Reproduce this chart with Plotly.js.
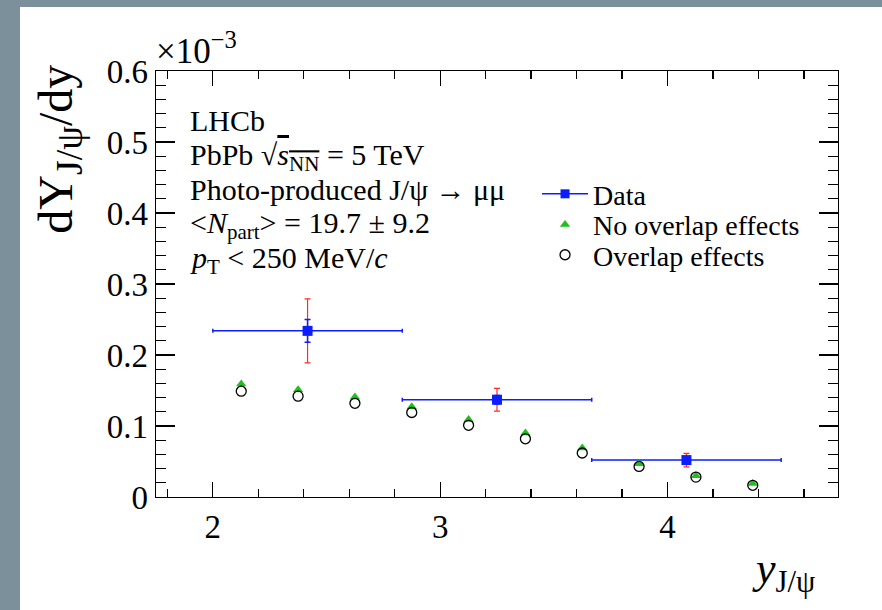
<!DOCTYPE html>
<html>
<head>
<meta charset="utf-8">
<script src="https://cdn.plot.ly/plotly-3.0.1.min.js"></script>
<style>
  html, body { margin: 0; padding: 0; background: #ffffff; width: 100%; height: 100%; overflow: hidden; }
  #cover { position: absolute; left: 0; top: 0; width: 1600px; height: 1200px; background: #ffffff; z-index: 0; }
  #chart { position: absolute; left: 0; top: 0; width: 882px; height: 610px; z-index: 1; }
  .strip { position: absolute; background: #7b909a; z-index: 10; }
  #stripLeft { left: 0; top: 0; width: 20px; height: 1200px; }
  #stripTop { left: 0; top: 0; width: 1600px; height: 7px; }
</style>
</head>
<body>
<div id="cover"></div>
<div id="chart"></div>
<div class="strip" id="stripLeft"></div>
<div class="strip" id="stripTop"></div>
<script>
// ---- data (yields in units of 1e-3) ----
const dataX = [2.4167, 3.25, 4.0833];
const dataY = [0.234, 0.137, 0.052];
const dataBinHalfWidth = [0.4167, 0.4167, 0.4167];
const dataStatErr = [0.016, 0.006, 0.004];
const dataTotErr = [0.045, 0.016, 0.0095];

const modelX = [2.125, 2.375, 2.625, 2.875, 3.125, 3.375, 3.625, 3.875, 4.125, 4.375];
const noOverlapY = [0.159, 0.151, 0.141, 0.127, 0.109, 0.090, 0.069, 0.047, 0.030, 0.019];
const overlapY = [0.149, 0.142, 0.132, 0.119, 0.101, 0.082, 0.062, 0.043, 0.028, 0.0165];

const yTickVals = [0, 0.1, 0.2, 0.3, 0.4, 0.5, 0.6];
const yTickText = ['0', '0.1', '0.2', '0.3', '0.4', '0.5', '0.6'];
const xTickVals = [2, 3, 4];
const xTickText = ['2', '3', '4'];

const FONT = '"Liberation Serif", "Times New Roman", Times, serif';
const BLUE = '#0a1eff';
const RED = '#ff2a2a';
const GREEN = '#1fbf1f';

const traces = [
  { // total uncertainty (red)
    x: dataX, y: dataY, type: 'scatter', mode: 'markers',
    marker: { size: 1, color: 'rgba(0,0,0,0)' },
    error_y: { type: 'data', array: dataTotErr, visible: true, color: RED, thickness: 1.2, width: 3 },
    showlegend: false, hoverinfo: 'skip'
  },
  { // data with stat uncertainty and bin width
    x: dataX, y: dataY, type: 'scatter', mode: 'markers',
    marker: { symbol: 'square', size: 10, color: BLUE },
    error_x: { type: 'data', array: dataBinHalfWidth, visible: true, color: BLUE, thickness: 1.5, width: 2 },
    error_y: { type: 'data', array: dataStatErr, visible: true, color: BLUE, thickness: 1.5, width: 3 },
    showlegend: false
  },
  { // legend entry for data
    x: [null], y: [null], type: 'scatter', mode: 'lines+markers',
    name: 'Data', legend: 'legend',
    line: { color: BLUE, width: 1.5 },
    marker: { symbol: 'square', size: 9, color: BLUE }
  },
  {
    x: modelX, y: noOverlapY, type: 'scatter', mode: 'markers',
    name: 'No overlap effects', legend: 'legend2',
    marker: { symbol: 'triangle-up', size: 9, color: GREEN }
  },
  {
    x: modelX, y: overlapY, type: 'scatter', mode: 'markers',
    name: 'Overlap effects', legend: 'legend3',
    marker: { symbol: 'circle-open', size: 10, color: '#000000', line: { width: 1.3, color: '#000000' } }
  }
];

const axisCommon = {
  showgrid: false, zeroline: false, showline: true, linecolor: '#000', linewidth: 1.3,
  mirror: 'allticks', ticks: 'inside', tickcolor: '#000', tickwidth: 1.2,
  tickfont: { family: FONT, size: 33, color: '#000' }
};

const textLines = [
  { t: 'LHCb', y: 0.883 },
  { t: 'PbPb √<span style="text-decoration:overline"><i>s</i><sub>NN</sub></span> = 5 TeV', y: 0.799 },
  { t: 'Photo-produced J/ψ → μμ', y: 0.721 },
  { t: '&lt;<i>N</i><sub>part</sub>&gt; = 19.7 ± 9.2', y: 0.638 },
  { t: '<i>p</i><sub>T</sub> &lt; 250 MeV/<i>c</i>', y: 0.556 }
];

const annotations = textLines.map(l => ({
  xref: 'paper', yref: 'paper', x: 0.047, y: l.y, xanchor: 'left', yanchor: 'middle',
  text: l.t, showarrow: false, font: { family: FONT, size: 30, color: '#000' }
}));

annotations.push({
  xref: 'paper', yref: 'paper', x: -0.003, y: 0.995, xanchor: 'left', yanchor: 'bottom',
  text: '×10<sup>−3</sup>', showarrow: false, font: { family: FONT, size: 35, color: '#000' }
});
annotations.push({
  xref: 'paper', yref: 'paper', x: -0.141, y: 0.817, xanchor: 'center', yanchor: 'middle',
  textangle: -90,
  text: 'dY<sub><span style="font-size:38px">J/ψ</span></sub>/dy', showarrow: false,
  font: { family: FONT, size: 48, color: '#000' }
});
annotations.push({
  xref: 'paper', yref: 'paper', x: 0.969, y: -0.176, xanchor: 'right', yanchor: 'middle',
  text: '<i>y</i><sub>J/ψ</sub>', showarrow: false,
  font: { family: FONT, size: 44, color: '#000' }
});

const legendCommon = {
  x: 0.5587, xanchor: 'left', yanchor: 'middle',
  bgcolor: 'rgba(0,0,0,0)', borderwidth: 0,
  font: { family: FONT, size: 28, color: '#000' },
  itemwidth: 46
};

const layout = {
  width: 882, height: 610,
  margin: { l: 156, r: 44, t: 71, b: 113 },
  paper_bgcolor: '#ffffff', plot_bgcolor: '#ffffff',
  font: { family: FONT, color: '#000' },
  xaxis: Object.assign({}, axisCommon, {
    range: [1.75, 4.75], tickvals: xTickVals, ticktext: xTickText, ticklen: 15,
    minor: { dtick: 0.2, ticklen: 8, tickcolor: '#000', tickwidth: 1.2, ticks: 'inside' }
  }),
  yaxis: Object.assign({}, axisCommon, {
    range: [0, 0.6], tickvals: yTickVals, ticktext: yTickText, ticklen: 19,
    minor: { dtick: 0.02, ticklen: 10, tickcolor: '#000', tickwidth: 1.2, ticks: 'inside' }
  }),
  legend: Object.assign({}, legendCommon, { y: 0.711 }),
  legend2: Object.assign({}, legendCommon, { y: 0.639 }),
  legend3: Object.assign({}, legendCommon, { y: 0.568 }),
  annotations: annotations
};

Plotly.newPlot('chart', traces, layout, { displayModeBar: false, staticPlot: true });
</script>
</body>
</html>
